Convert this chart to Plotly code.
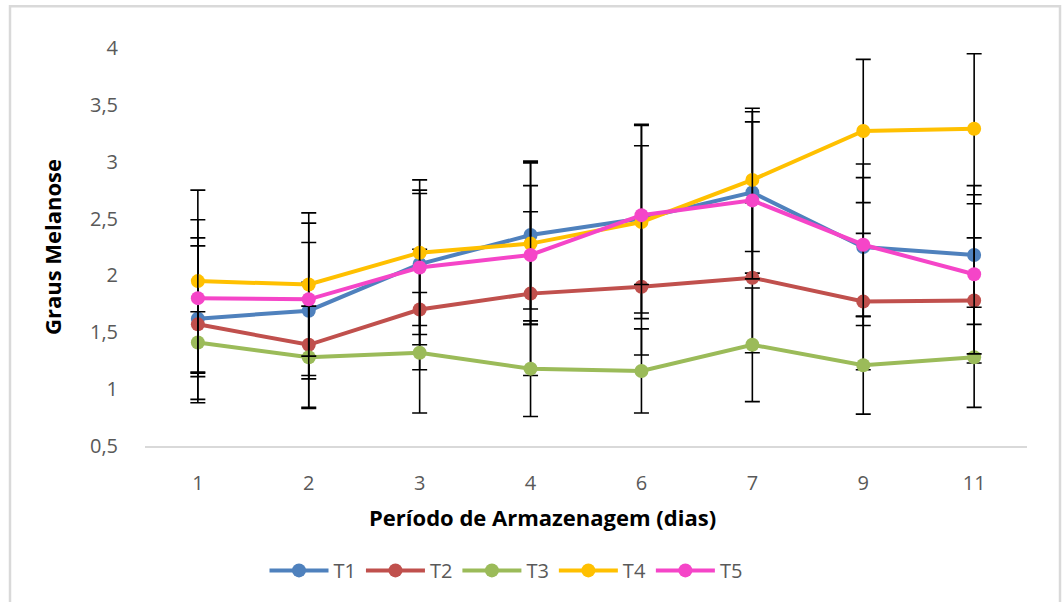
import plotly.graph_objects as go

days = ["1", "2", "3", "4", "6", "7", "9", "11"]
series_names = ["T1", "T2", "T3", "T4", "T5"]

T1 = [1.62, 1.69, 2.10, 2.355, 2.50, 2.73, 2.25, 2.18]
T1_err = [0.71, 0.60, 0.62, 0.65, 0.83, 0.71, 0.61, 0.61]
T2 = [1.57, 1.39, 1.70, 1.84, 1.90, 1.98, 1.77, 1.78]
T2_err = [0.69, 0.55, 0.53, 0.72, 0.60, 0.66, 0.60, 0.55]
T3 = [1.41, 1.28, 1.32, 1.18, 1.16, 1.39, 1.21, 1.28]
T3_err = [0.27, 0.45, 0.53, 0.42, 0.37, 0.50, 0.43, 0.44]
T4 = [1.95, 1.92, 2.20, 2.28, 2.47, 2.84, 3.27, 3.29]
T4_err = [0.80, 0.63, 0.64, 0.71, 0.85, 0.63, 0.63, 0.66]
T5 = [1.80, 1.79, 2.07, 2.18, 2.53, 2.66, 2.27, 2.01]
T5_err = [0.69, 0.67, 0.68, 0.61, 0.61, 0.69, 0.71, 0.70]

x_title = "Período de Armazenagem (dias)"
y_title = "Graus Melanose"

colors = ["#4F81BD", "#C0504D", "#9BBB59", "#FFC000", "#F545C8"]
values = [T1, T2, T3, T4, T5]
errors = [T1_err, T2_err, T3_err, T4_err, T5_err]

fig = go.Figure()
for name, y, e, c in zip(series_names, values, errors, colors):
    fig.add_trace(go.Scatter(
        x=days, y=y, name=name, mode="lines+markers",
        line=dict(color=c, width=4),
        marker=dict(color=c, size=14),
        error_y=dict(type="data", array=e, visible=True, color="black",
                     thickness=1.6, width=7.5),
    ))

# plot area geometry (pixels) used for the outer chart border
L, R, T, B = 145, 1027, 48, 448
W, H = 1063, 602
pw, ph = R - L, B - T

def px_x(p):
    return (p - L) / pw

def px_y(p):
    return (B - p) / ph

fig.add_shape(type="rect", xref="paper", yref="paper",
              x0=px_x(10), x1=px_x(1060), y0=px_y(610), y1=px_y(6),
              line=dict(color="#d9d9d9", width=2.5), fillcolor="rgba(0,0,0,0)",
              layer="below")

fig.add_annotation(text="<b>" + x_title + "</b>", xref="paper", yref="paper",
                   x=px_x(542), y=px_y(519), xanchor="center", yanchor="middle",
                   showarrow=False, font=dict(size=22, color="black"))

tick_font = "'Open Sans', sans-serif"

fig.update_layout(
    width=W, height=H,
    margin=dict(l=L, r=W - R, t=T, b=H - B),
    paper_bgcolor="white", plot_bgcolor="white",
    separators=", ",
    font=dict(family=tick_font, size=18, color="#595959"),
    showlegend=True,
    legend=dict(orientation="h", x=px_x(506), xanchor="center",
                y=px_y(573), yanchor="middle",
                font=dict(size=20, color="#595959"), itemwidth=59,
                bgcolor="rgba(0,0,0,0)"),
    xaxis=dict(type="category", showgrid=False, zeroline=False,
               showline=True, linecolor="#d9d9d9", linewidth=1.5,
               ticks="", ticklabelstandoff=18,
               tickfont=dict(size=20, color="#595959")),
    yaxis=dict(range=[0.5, 4], dtick=0.5, tick0=0.5, showgrid=False,
               zeroline=False, showline=False, ticks="",
               ticklabelstandoff=26, tickformat=".1~f",
               tickfont=dict(size=20, color="#595959"),
               title=dict(text="<b>" + y_title + "</b>",
                          font=dict(size=22, color="black"), standoff=22)),
)

fig.write_html("out.html", config={"displayModeBar": False},
               post_script="document.body.style.margin='0';")
